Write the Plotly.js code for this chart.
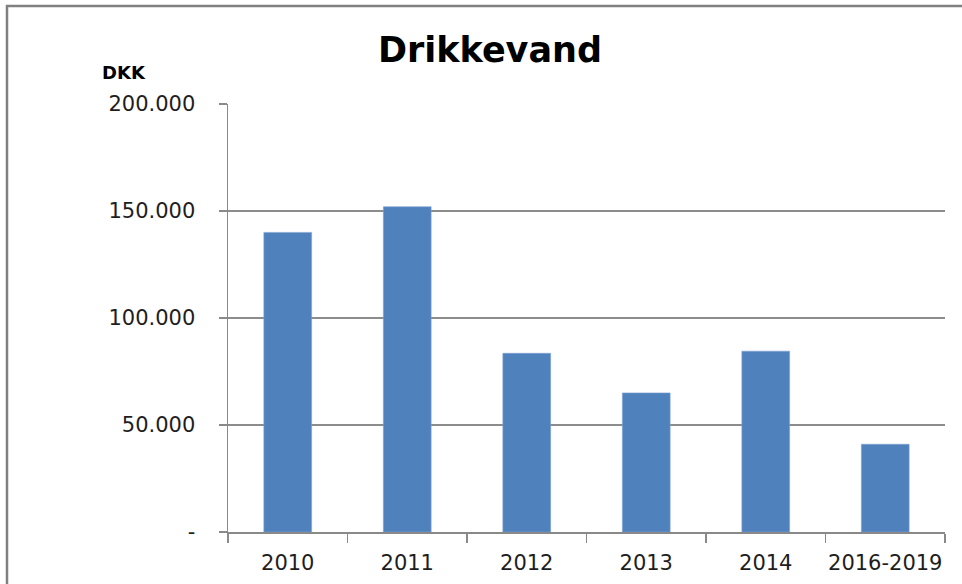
<!DOCTYPE html>
<html>
<head>
<meta charset="utf-8">
<script src="https://cdn.plot.ly/plotly-3.0.1.min.js"></script>
<style>
  html, body { margin: 0; padding: 0; background: #fff; }
  #chart { width: 962px; height: 584px; }
</style>
</head>
<body>
<div id="chart"></div>
<script>
const categories = ["2010", "2011", "2012", "2013", "2014", "2016-2019"];
const values = [140000, 152000, 83500, 65000, 84500, 41000];
const yTickVals = [0, 50000, 100000, 150000, 200000];
const yTickText = ["-", "50.000", "100.000", "150.000", "200.000"];

const L = 228, R = 945, T = 104, B = 532, W = 962, H = 584;
const px = x => (x - L) / (R - L);
const py = y => (B - y) / (B - T);

const trace = {
  type: "bar",
  x: categories,
  y: values,
  marker: { color: "#4F81BD", line: { color: "#7FA3D3", width: 0.6 } },
  hoverinfo: "x+y"
};

const layout = {
  width: W, height: H,
  margin: { l: L, r: W - R, t: T, b: H - B, pad: 0 },
  paper_bgcolor: "#ffffff",
  plot_bgcolor: "#ffffff",
  showlegend: false,
  bargap: 0.6,
  font: { family: "DejaVu Sans", color: "#1e1e1e" },
  title: {
    text: "<b>Drikkevand</b>",
    font: { family: "DejaVu Sans", size: 35, color: "#000000" },
    x: 490 / W, xanchor: "center",
    y: 1 - 50 / H, yanchor: "middle"
  },
  xaxis: {
    type: "category",
    showgrid: false,
    showline: true, linecolor: "#898989", linewidth: 1.5,
    ticks: "outside", ticklen: 9, tickcolor: "#898989", tickwidth: 1.5,
    tickson: "boundaries",
    tickangle: 0,
    tickfont: { family: "DejaVu Sans", size: 21, color: "#1e1e1e" },
    ticklabelstandoff: 11,
    fixedrange: true
  },
  yaxis: {
    range: [0, 200000],
    tickvals: yTickVals,
    ticktext: yTickText,
    showgrid: true, gridcolor: "#8c8c8c", gridwidth: 1.2,
    showline: true, linecolor: "#898989", linewidth: 1.5,
    ticks: "outside", ticklen: 8, tickcolor: "#898989", tickwidth: 1.5,
    tickfont: { family: "DejaVu Sans", size: 21, color: "#1e1e1e" },
    ticklabelstandoff: 19,
    zeroline: false,
    fixedrange: true
  },
  annotations: [{
    text: "<b>DKK</b>",
    xref: "paper", yref: "paper",
    x: px(124), y: py(72),
    xanchor: "center", yanchor: "middle",
    showarrow: false,
    font: { family: "DejaVu Sans", size: 18, color: "#000000" }
  }],
  shapes: [{
    type: "rect", xref: "paper", yref: "paper",
    x0: px(7), x1: px(990), y0: py(620), y1: py(6),
    line: { color: "#808080", width: 2.5 },
    fillcolor: "rgba(0,0,0,0)",
    layer: "above"
  }]
};

Plotly.newPlot("chart", [trace], layout, { displayModeBar: false, staticPlot: true });
</script>
</body>
</html>
